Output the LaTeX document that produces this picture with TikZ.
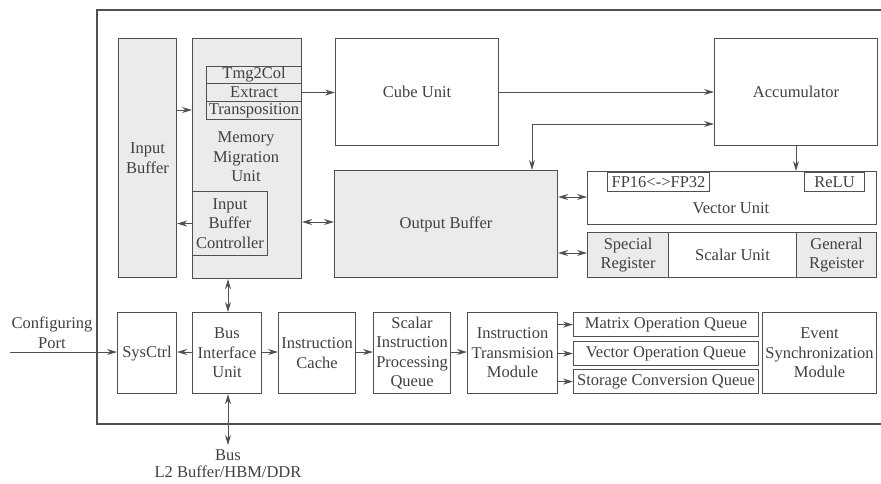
\documentclass[tikz,border=0pt]{standalone}
\usepackage{fontspec}
\setmainfont{Liberation Serif}
\usetikzlibrary{arrows.meta}
\definecolor{ln}{HTML}{505050}
\definecolor{tx}{HTML}{404040}
\definecolor{gf}{HTML}{EBEBEB}
\tikzset{
  blk/.style={draw=ln, line width=1.1pt},
  gblk/.style={blk, fill=gf},
  lbl/.style={text=tx, font=\fontsize{16.5}{19.5}\selectfont, align=center, inner sep=0pt},
  arr/.style={draw=ln, line width=1pt, -{Stealth[length=10pt,width=6pt]}},
  darr/.style={draw=ln, line width=1pt, {Stealth[length=10pt,width=6pt]}-{Stealth[length=10pt,width=6pt]}},
}
\begin{document}
\begin{tikzpicture}[x=1pt,y=-1pt]
\useasboundingbox (0,0) rectangle (881,483);
% outer frame
\draw[blk] (97,10) rectangle (900,424);
% boxes as nodes
\node[gblk, minimum width=58pt, minimum height=239pt, anchor=north west] (ib) at (118,38) {};
\node[lbl] at (ib.center) {Input\\Buffer};
\node[gblk, minimum width=109pt, minimum height=240pt, anchor=north west] (mmu) at (192,38) {};
\node[lbl] (mmulbl) at (246,157) {Memory\\Migration\\Unit};
\node[gblk, minimum width=95pt, minimum height=17pt, anchor=north west, lbl] (tmg) at (206,66) {Tmg2Col};
\node[gblk, minimum width=95pt, minimum height=18pt, anchor=north west, lbl] (ext) at (206,83) {Extract};
\node[gblk, minimum width=95pt, minimum height=18pt, anchor=north west, lbl] (trn) at (206,101) {Transposition};
\node[gblk, minimum width=75pt, minimum height=64pt, anchor=north west, lbl] (ibc) at (192,191) {Input\\Buffer\\Controller};
\node[blk, minimum width=163pt, minimum height=107pt, anchor=north west, lbl] (cube) at (335,38) {Cube Unit};
\node[blk, minimum width=163pt, minimum height=107pt, anchor=north west, lbl] (acc) at (714,38) {Accumulator};
\node[gblk, minimum width=223pt, minimum height=107pt, anchor=north west, lbl] (ob) at (334,170) {Output Buffer};
\node[blk, minimum width=289pt, minimum height=53pt, anchor=north west] (vu) at (587,171) {};
\node[lbl] (vulbl) at (731,208) {Vector Unit};
\node[blk, minimum width=102pt, minimum height=19pt, anchor=north west, lbl] (fp) at (607,172) {FP16<->FP32};
\node[blk, minimum width=60pt, minimum height=19pt, anchor=north west, lbl] (relu) at (804,172) {ReLU};
\node[gblk, minimum width=81pt, minimum height=45pt, anchor=north west, lbl] (sr) at (587,232) {Special\\Register};
\node[blk, minimum width=128pt, minimum height=45pt, anchor=north west, lbl] (su) at (668,232) {Scalar Unit};
\node[gblk, minimum width=80pt, minimum height=45pt, anchor=north west, lbl] (gr) at (796,232) {General\\Rgeister};
% bottom row
\node[blk, minimum width=59pt, minimum height=81pt, anchor=north west, lbl] (sys) at (117,312) {SysCtrl};
\node[blk, minimum width=69pt, minimum height=81pt, anchor=north west, lbl] (biu) at (192,312) {Bus\\Interface\\Unit};
\node[blk, minimum width=77pt, minimum height=81pt, anchor=north west, lbl] (ic) at (278,312) {Instruction\\Cache};
\node[blk, minimum width=77pt, minimum height=81pt, anchor=north west, lbl] (sipq) at (373,312) {Scalar\\Instruction\\Processing\\Queue};
\node[blk, minimum width=90pt, minimum height=81pt, anchor=north west, lbl] (itm) at (467,312) {Instruction\\Transmision\\Module};
\node[blk, minimum width=185pt, minimum height=24pt, anchor=north west, lbl] (mq) at (573,312) {Matrix Operation Queue};
\node[blk, minimum width=185pt, minimum height=24pt, anchor=north west, lbl] (vq) at (573,341) {Vector Operation Queue};
\node[blk, minimum width=185pt, minimum height=24pt, anchor=north west, lbl] (sq) at (573,369) {Storage Conversion Queue};
\node[blk, minimum width=114pt, minimum height=81pt, anchor=north west, lbl] (esm) at (762,312) {Event\\Synchronization\\Module};
% outside labels
\node[lbl] (cfg) at (52,333) {Configuring\\Port};
\coordinate (cfgstart) at (10,352);
\coordinate (busend) at (228,445);
\node[lbl] (bus) at (228,455) {Bus};
\node[lbl] (l2) at (228,472) {L2 Buffer/HBM/DDR};
% connectors
\draw[arr] (ib.east |- 0,110) -- (mmu.west |- 0,110);
\draw[arr] (ext.east) -- (cube.west |- ext.east);
\draw[arr] (cube.east |- 0,92) -- (acc.west |- 0,92);
\draw[darr] (ob.north -| 532,0) -- (532,124) -- (acc.west |- 0,124);
\draw[arr] (acc.south -| 796,0) -- (vu.north -| 796,0);
\draw[darr] (ob.east |- 0,197) -- (vu.west |- 0,197);
\draw[darr] (ob.east |- 0,253) -- (sr.west |- 0,253);
\draw[arr] (ibc.west) -- (ib.east |- ibc.west);
\draw[darr] (mmu.east |- 0,222) -- (ob.west |- 0,222);
\draw[darr] (biu.north -| 228,0) -- (mmu.south -| 228,0);
\draw[darr] (biu.south -| 228,0) -- (busend);
\draw[arr] (cfgstart) -- (sys.west |- cfgstart);
\draw[arr] (biu.west |- 0,352) -- (sys.east |- 0,352);
\draw[arr] (biu.east |- 0,352) -- (ic.west |- 0,352);
\draw[arr] (ic.east |- 0,352) -- (sipq.west |- 0,352);
\draw[arr] (sipq.east |- 0,352) -- (itm.west |- 0,352);
\draw[arr] (itm.east |- mq.west) -- (mq.west);
\draw[arr] (itm.east |- vq.west) -- (vq.west);
\draw[arr] (itm.east |- sq.west) -- (sq.west);
\end{tikzpicture}
\end{document}
